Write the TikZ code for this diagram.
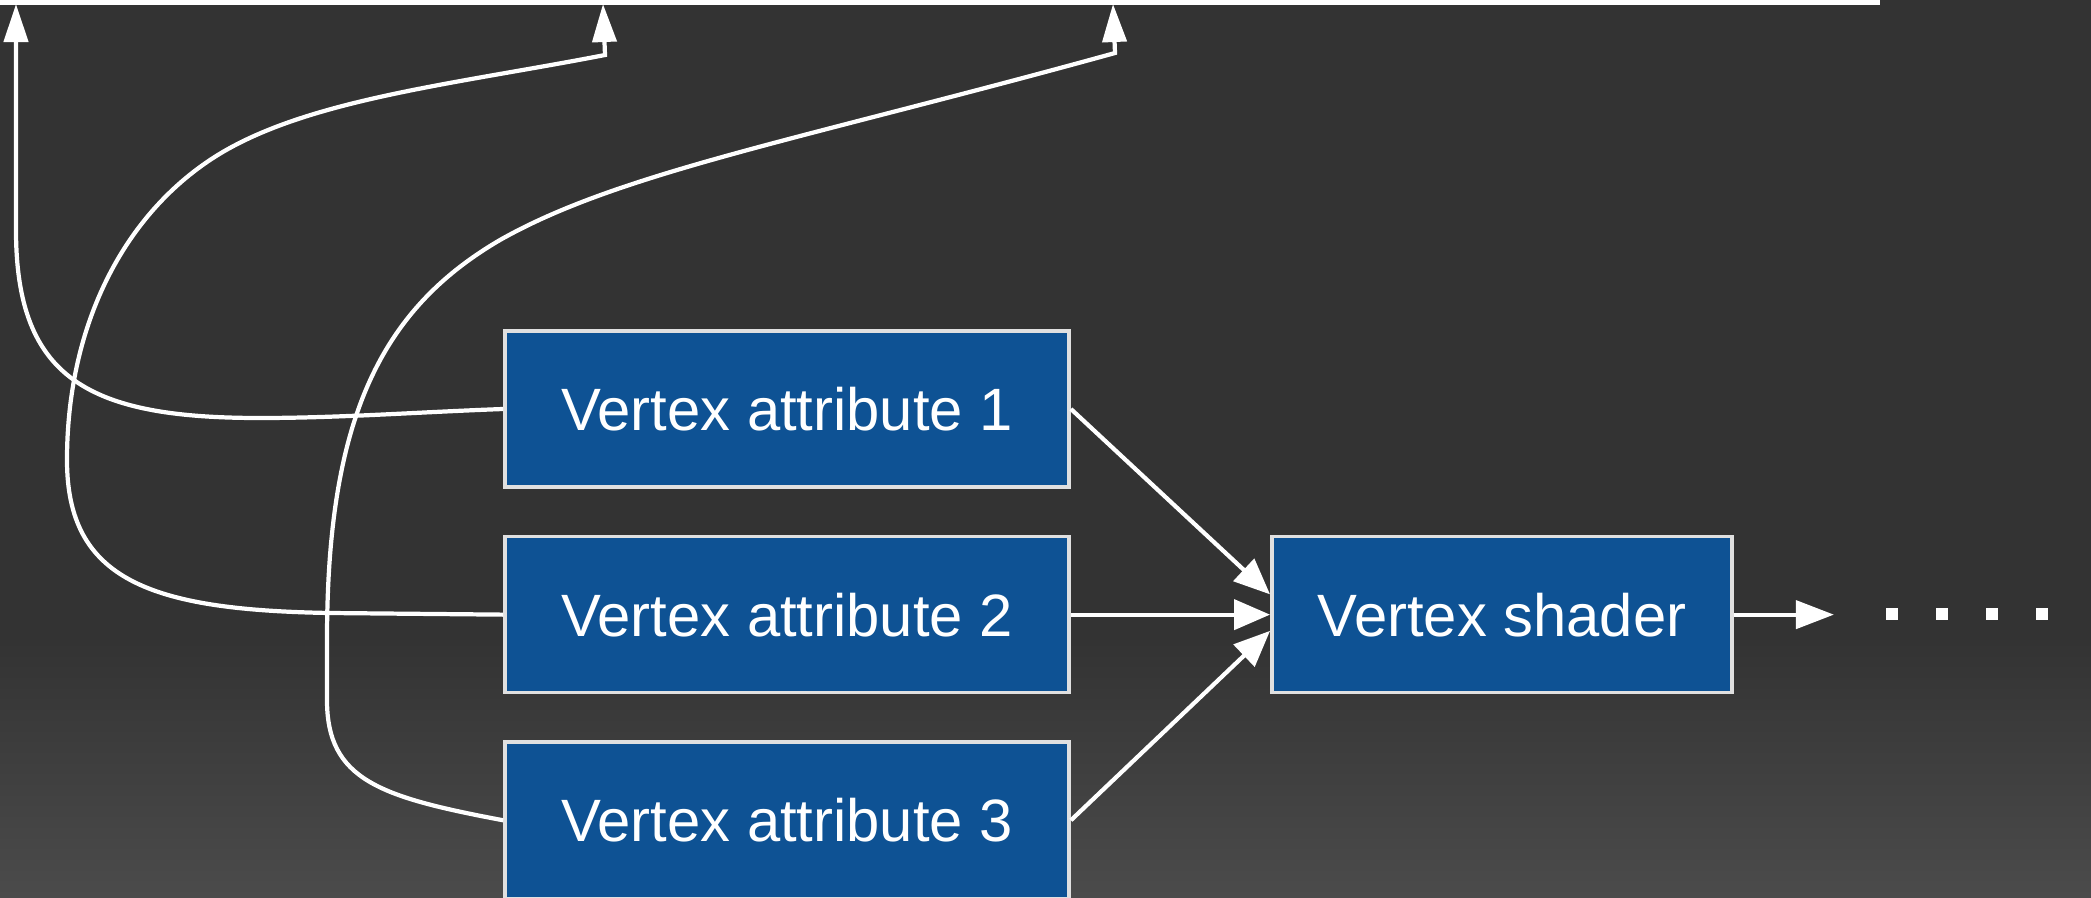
\documentclass[tikz,border=0pt]{standalone}
\usepackage{fontspec}
\setmainfont{Liberation Sans}
\usetikzlibrary{arrows.meta,positioning}
\definecolor{kbg}{HTML}{333333}
\definecolor{kbglow}{HTML}{4B4B4B}
\definecolor{kblue}{HTML}{0E5294}
\tikzset{
  kbox/.style={draw=white!88!black,line width=1pt,fill=kblue,text=white,minimum height=1.56cm,inner sep=0pt,font=\fontsize{17}{20}\selectfont},
  kwire/.style={draw=white,line width=1.2pt},
  kup/.style={kwire,-{Triangle[length=0.38cm,width=0.24cm]}},
  kin/.style={kwire,-{Triangle[length=0.36cm,width=0.3cm]}},
}
\begin{document}
\begin{tikzpicture}[x=0.01cm,y=-0.01cm]
\useasboundingbox[fill=kbg](0,0) rectangle (2091,897);
\shade[top color=kbg,bottom color=kbglow](0,640) rectangle (2091,897);
\pgfmathsetmacro{\kgap}{0.46}
% attribute boxes and shader
\node[kbox,minimum width=5.64cm](va1) at (787,409){Vertex attribute 1};
\node[kbox,minimum width=5.64cm,below=\kgap cm of va1](va2){Vertex attribute 2};
\node[kbox,minimum width=5.64cm,below=\kgap cm of va2](va3){Vertex attribute 3};
\node[kbox,minimum width=4.6cm,right=1.99cm of va2](vs){Vertex shader};
% bus on top
\draw[kwire,line width=1.5pt](0,2)coordinate(kbus0)--(1880,2)coordinate(kbus1);
\foreach \k/\kx in {1/16,2/603,3/1113}{\coordinate(t\k) at (\kx,4);}
\coordinate[right=1cm of vs.east](kout);
\draw[kup](va1.west) .. controls (420,412) and (340,418) .. (260,418) .. controls (90,418) and (16,380) .. (16,230) -- (t1);
\draw[kup](va2.west) -- (330,613) .. controls (150,610) and (67,580) .. (67,460) .. controls (67,330) and (120,220) .. (210,160) .. controls (300,100) and (450,85) .. (605,55) -- (t2);
\draw[kup](va3.west) .. controls (380,797) and (327,780) .. (327,700) -- (327,640) .. controls (327,420) and (380,310) .. (500,240) .. controls (620,172) and (800,140) .. (1115,53) -- (t3);
% into and out of the shader
\draw[kin](va1.east) -- (vs.175.5);
\draw[kin](va2.east) -- (vs.west);
\draw[kin](va3.east) -- (vs.184.5);
\draw[kwire,-{Triangle[length=0.38cm,width=0.28cm]}](vs.east) -- (kout);
\foreach \kx in {1892,1942,1992,2042}{\fill[white](\kx-6,608) rectangle ++(12,12);}
\end{tikzpicture}
\end{document}
